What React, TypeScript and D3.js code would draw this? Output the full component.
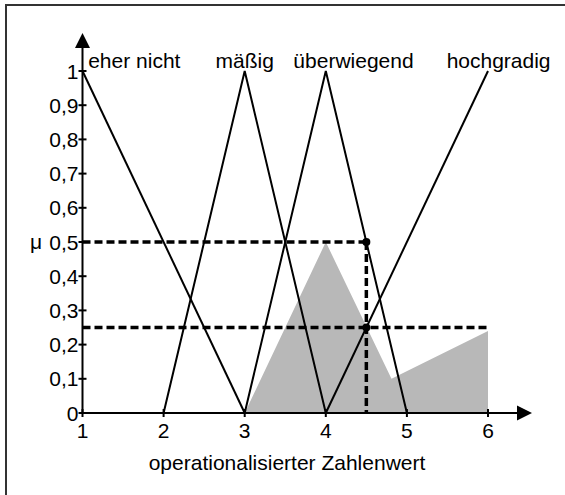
import React from "react";
import * as d3 from "d3";

// ---- data ----
const categories = ["eher nicht", "mäßig", "überwiegend", "hochgradig"];
const labelX = [1.07, 3.0, 3.6, 5.49];
const labelAnchor = ["start", "middle", "start", "start"];
const eherNicht: [number, number][] = [[1, 1], [3, 0]];
const maessig: [number, number][] = [[2, 0], [3, 1], [4, 0]];
const ueberwiegend: [number, number][] = [[3, 0], [4, 1], [5, 0]];
const hochgradig: [number, number][] = [[4, 0], [6, 1]];
const resultArea: [number, number][] = [[3, 0], [4, 0.5], [4.81, 0.1], [6, 0.24], [6, 0]];
const xTicks = [1, 2, 3, 4, 5, 6];
const yTicks = [0, 0.1, 0.2, 0.3, 0.4, 0.5, 0.6, 0.7, 0.8, 0.9, 1];
const inputValue = 4.5;
const cutLevels = [0.5, 0.25];
const cutEnds = [4.5, 6];

const W = 565;
const H = 495;
const FONT = "'Liberation Sans', Arial, sans-serif";

export default function App() {
  const x = d3.scaleLinear().domain([1, 6]).range([82.5, 488]);
  const y = d3.scaleLinear().domain([0, 1]).range([413, 71]);
  const line = d3.line<[number, number]>().x((d) => x(d[0])).y((d) => y(d[1]));
  const area = d3.line<[number, number]>().x((d) => x(d[0])).y((d) => y(d[1]));
  const fmt = (v: number) => (v === 0 ? "0" : v === 1 ? "1" : d3.format(".1f")(v).replace(".", ","));
  const series = [eherNicht, maessig, ueberwiegend, hochgradig];
  const x0 = x(1);
  const y0 = y(0);
  return (
    <svg width={W} height={H} style={{ position: "absolute", left: 0, top: 0, background: "#fff" }} fontFamily={FONT}>
      <rect x={6} y={5} width={620} height={560} fill="none" stroke="#333" strokeWidth={2} />
      <path d={area(resultArea) + "Z"} fill="#b8b8b8" />
      {series.map((s, i) => (
        <path key={i} d={line(s) || ""} fill="none" stroke="#000" strokeWidth={2} />
      ))}
      {cutLevels.map((c, i) => (
        <line key={i} x1={x0} x2={x(cutEnds[i])} y1={y(c)} y2={y(c)} stroke="#000" strokeWidth={3.5} strokeDasharray="8,4" />
      ))}
      <line x1={x(inputValue)} x2={x(inputValue)} y1={y(cutLevels[0])} y2={y0} stroke="#000" strokeWidth={3.5} strokeDasharray="8,4" />
      {cutLevels.map((c, i) => (
        <circle key={i} cx={x(inputValue)} cy={y(c)} r={4} fill="#000" />
      ))}
      {/* axes */}
      <line x1={x0} x2={x0} y1={y0 + 1} y2={45} stroke="#000" strokeWidth={2} />
      <path d={`M${x0},33 L${x0 - 7.5},48 L${x0 + 7.5},48 Z`} fill="#000" />
      <line x1={x0 - 1} x2={519} y1={y0} y2={y0} stroke="#000" strokeWidth={2} />
      <path d={`M532,${y0} L517,${y0 - 7.5} L517,${y0 + 7.5} Z`} fill="#000" />
      {yTicks.map((t) => (
        <g key={t}>
          <line x1={x0 - 4} x2={x0 + 4} y1={y(t)} y2={y(t)} stroke="#000" strokeWidth={2} />
          <text x={x0 - 4} y={y(t) + 7.5} textAnchor="end" fontSize={21} fill="#000">
            {fmt(t)}
          </text>
        </g>
      ))}
      {xTicks.map((t) => (
        <g key={t}>
          <line x1={x(t)} x2={x(t)} y1={y0 - 4} y2={y0 + 4} stroke="#000" strokeWidth={2} />
          <text x={x(t)} y={438} textAnchor="middle" fontSize={21} fill="#000">
            {t}
          </text>
        </g>
      ))}
      <text x={30} y={249} fontSize={21} fill="#000">μ</text>
      <text x={287} y={470} textAnchor="middle" fontSize={21} fill="#000">
        operationalisierter Zahlenwert
      </text>
      {categories.map((c, i) => (
        <text key={c} x={x(labelX[i])} y={68} textAnchor={labelAnchor[i] as any} fontSize={21} fill="#000">
          {c}
        </text>
      ))}
    </svg>
  );
}
